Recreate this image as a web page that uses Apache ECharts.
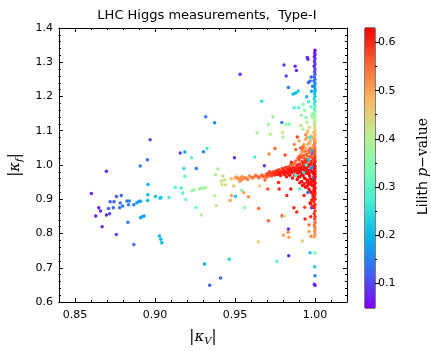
<!DOCTYPE html>
<html><head><meta charset="utf-8">
<script src="https://cdn.jsdelivr.net/npm/echarts@6/dist/echarts.min.js"></script>
<style>html,body{margin:0;padding:0;background:#fff}#c{width:431px;height:351px}</style>
</head><body><div id="c"></div>
<script>
// ---- data: [ |kappa_V|, |kappa_f|, Lilith p-value ] ----
const leftBranch = [
[0.8603,0.917,0.08],[0.8697,0.982,0.08],[0.8649,0.875,0.07],[0.866,0.866,0.08],[0.863,0.851,0.07],
[0.867,0.820,0.08],[0.8697,0.854,0.08],[0.8717,0.858,0.10],[0.871,0.873,0.12],[0.872,0.893,0.12],
[0.8744,0.893,0.12],[0.874,0.875,0.13],[0.876,0.908,0.12],[0.8759,0.797,0.10],[0.878,0.875,0.13],
[0.8783,0.889,0.13],[0.879,0.911,0.13],[0.8798,0.880,0.14],[0.8825,0.895,0.14],[0.884,0.895,0.15],
[0.8835,0.884,0.15],[0.8831,0.833,0.14],[0.8868,0.884,0.15],[0.8868,0.768,0.13],[0.8887,0.890,0.17],
[0.890,0.894,0.18],[0.891,0.894,0.18],[0.891,0.846,0.18],[0.892,0.849,0.18],[0.8932,0.851,0.18],
[0.8908,0.997,0.15],[0.8953,1.015,0.14],[0.897,1.074,0.10],[0.8957,0.943,0.20],[0.8955,0.913,0.20],
[0.8955,0.896,0.20],[0.9003,0.908,0.21],[0.9032,0.903,0.22],[0.9038,0.905,0.22],[0.9088,0.905,0.27],
[0.9028,0.793,0.20],[0.9037,0.783,0.20],[0.9043,0.773,0.20],[0.9127,0.935,0.30],[0.9158,1.035,0.10],
[0.9187,1.038,0.18],[0.9165,0.933,0.28],[0.9173,0.918,0.30],[0.9181,0.990,0.25],[0.9187,0.967,0.30],
[0.9193,0.899,0.32],[0.9228,1.021,0.30],[0.9232,0.925,0.37],[0.9245,0.927,0.37],[0.9255,0.876,0.33],
[0.9259,0.990,0.15],[0.9278,0.930,0.38],[0.929,0.932,0.38],[0.9303,0.932,0.38],[0.9317,0.934,0.38],
[0.929,0.854,0.40],[0.9303,1.039,0.15],[0.9326,1.048,0.27],[0.9317,1.141,0.15],[0.9373,1.123,0.15],
[0.931,0.711,0.20],[0.9342,0.649,0.12]
];
const midBranch = [
[0.941,0.670,0.13],[0.9464,0.725,0.23],[0.9373,0.911,0.40],[0.9383,0.882,0.42],[0.9379,0.972,0.40],
[0.9394,0.988,0.40],[0.9415,0.953,0.42],[0.9419,0.942,0.42],[0.9425,0.968,0.43],[0.9435,0.956,0.43],
[0.9441,0.942,0.43],[0.947,0.896,0.50],[0.9478,0.910,0.50],[0.9503,0.909,0.22],[0.9497,1.021,0.09],
[0.9477,0.960,0.48],[0.9508,0.964,0.50],[0.9493,0.939,0.46],[0.9532,1.265,0.08],[0.9529,0.952,0.50],
[0.9539,0.956,0.52],[0.955,0.960,0.52],[0.956,0.963,0.52],[0.9543,0.926,0.35],[0.9555,0.919,0.50],
[0.956,0.875,0.35],[0.9584,0.907,0.52],[0.958,0.958,0.53],[0.9601,0.964,0.53],[0.9622,0.966,0.53],
[0.9622,1.023,0.28],[0.9639,1.094,0.38],[0.9648,0.873,0.55],[0.9653,0.939,0.45],[0.9643,0.966,0.55],
[0.9663,0.968,0.55],[0.9667,1.186,0.25],[0.9646,0.776,0.45],[0.9684,0.998,0.09],[0.9688,0.956,0.55],
[0.9500,0.962,0.50],[0.9512,0.965,0.51],[0.9520,0.960,0.52],[0.9535,0.963,0.51],[0.9545,0.966,0.52],
[0.9570,0.962,0.53],[0.9590,0.968,0.52],[0.9610,0.962,0.54],[0.9630,0.970,0.54],[0.9650,0.963,0.55],
[0.9670,0.971,0.55],[0.9680,0.966,0.56],[0.9695,0.972,0.56],[0.9700,0.965,0.56]
];
const rightScatter = [
[0.9705,0.970,0.55],[0.9705,0.930,0.57],[0.9709,0.837,0.55],[0.9713,1.032,0.53],[0.9717,0.980,0.57],
[0.971,1.118,0.38],[0.972,1.090,0.40],[0.9737,1.141,0.38],[0.975,1.048,0.55],[0.9762,0.718,0.30],
[0.9772,0.949,0.60],[0.9776,0.930,0.60],[0.9793,1.124,0.15],[0.9797,1.095,0.42],[0.9801,1.082,0.40],
[0.9795,0.852,0.58],[0.9808,0.851,0.40],[0.9803,0.795,0.50],[0.9806,1.292,0.09],[0.9814,1.029,0.57],
[0.9818,1.119,0.38],[0.982,1.260,0.10],[0.9824,0.911,0.60],[0.9832,0.804,0.52],[0.9834,0.813,0.09],
[0.9834,1.226,0.15],[0.9836,0.735,0.08],[0.9838,0.789,0.50],[0.984,1.119,0.35],[0.9849,0.930,0.62],
[0.9853,1.008,0.60],[0.9864,1.207,0.20],[0.9868,0.875,0.60],[0.987,1.167,0.28],[0.9876,1.288,0.08],
[0.9884,1.276,0.08],[0.988,1.210,0.20],[0.9886,0.863,0.60],[0.989,1.082,0.58],[0.9895,1.216,0.22],
[0.9897,1.167,0.30],[0.9901,1.025,0.57],[0.9911,1.115,0.42],[0.9917,1.039,0.50],
[0.9921,0.778,0.45],[0.9926,1.177,0.35],[0.9932,0.911,0.60],[0.9936,0.877,0.58],[0.9938,0.842,0.60],
[0.9942,1.088,0.52],[0.9944,1.139,0.35],[0.9948,1.199,0.20],[0.9952,1.314,0.08],[0.9956,1.309,0.08],
[0.9959,1.241,0.13],[0.9963,0.806,0.50],[0.9963,0.825,0.55],[0.9967,1.063,0.50],[0.9969,0.744,0.22],
[0.9971,0.887,0.62],[0.9973,0.849,0.60],[0.9975,0.792,0.52],[0.9977,1.257,0.12],[0.9979,0.875,0.08],
[0.9981,1.148,0.35],[0.9983,1.139,0.40],
[0.9915,1.145,0.38],[0.9935,1.160,0.36],[0.9950,1.125,0.40],[0.9965,1.110,0.42],[0.9925,1.105,0.40],
[0.9975,1.170,0.32],[0.9960,1.185,0.27],[0.9978,1.215,0.18],[0.9985,1.230,0.15],[0.9970,1.245,0.13],
[0.9870,1.060,0.52],[0.9900,1.070,0.50],[0.9925,1.055,0.54],[0.9940,1.075,0.50],[0.9880,1.045,0.55],
[0.9955,1.095,0.47],[0.9910,1.050,0.56]
];
const denseCore = [
[0.9705,0.975,0.57],[0.9712,0.970,0.58],[0.9720,0.978,0.58],[0.9728,0.968,0.57],[0.9735,0.974,0.59],
[0.9740,0.980,0.58],[0.9748,0.971,0.60],[0.9752,0.977,0.59],[0.9760,0.983,0.60],[0.9765,0.972,0.61],
[0.9770,0.978,0.60],[0.9775,0.986,0.58],[0.9780,0.975,0.61],[0.9785,0.969,0.62],[0.9790,0.981,0.60],
[0.9795,0.990,0.58],[0.9800,0.977,0.62],[0.9805,0.985,0.61],[0.9810,0.972,0.62],[0.9815,0.993,0.59],
[0.9818,0.980,0.62],[0.9822,0.966,0.61],[0.9826,0.988,0.60],[0.9830,0.976,0.62],[0.9834,0.995,0.57],
[0.9838,0.983,0.62],[0.9842,0.970,0.62],[0.9846,0.990,0.61],[0.9850,1.000,0.57],[0.9853,0.978,0.63],
[0.9857,0.986,0.62],[0.9860,0.962,0.62],[0.9864,0.994,0.60],[0.9868,1.005,0.56],[0.9870,0.981,0.62],
[0.9874,0.971,0.63],[0.9877,0.990,0.61],[0.9880,1.012,0.55],[0.9883,0.984,0.62],[0.9886,0.998,0.60],
[0.9889,0.958,0.62],[0.9892,0.976,0.63],[0.9895,1.020,0.55],[0.9897,0.992,0.61],[0.9900,0.985,0.62],
[0.9903,1.003,0.59],[0.9906,0.966,0.63],[0.9909,0.979,0.62],[0.9912,1.030,0.53],[0.9914,0.995,0.61],
[0.9917,0.952,0.62],[0.9920,1.010,0.58],[0.9922,0.987,0.62],[0.9925,0.970,0.63],[0.9928,1.040,0.52],
[0.9930,0.999,0.60],[0.9932,0.945,0.62],[0.9935,1.018,0.56],[0.9937,0.982,0.63],[0.9940,0.960,0.62],
[0.9942,1.050,0.50],[0.9944,1.006,0.59],[0.9946,0.990,0.62],[0.9948,0.938,0.62],[0.9950,1.026,0.55],
[0.9952,0.975,0.63],[0.9954,0.955,0.62],[0.9956,1.060,0.48],[0.9958,1.013,0.57],[0.9960,0.996,0.61],
[0.9962,0.930,0.62],[0.9964,1.035,0.53],[0.9966,0.968,0.63],[0.9968,0.948,0.62],[0.9970,1.070,0.48],
[0.9972,1.002,0.60],[0.9974,0.985,0.62],[0.9976,0.920,0.62],[0.9978,1.045,0.52],[0.9980,0.958,0.63],
[0.9982,0.940,0.62],[0.9984,1.020,0.57],[0.9986,0.978,0.63],[0.9988,0.910,0.62],[0.9990,1.055,0.50],
[0.9992,0.995,0.61],[0.9994,0.965,0.63],[0.9996,0.935,0.62],[0.9998,1.008,0.59],[1.0000,0.972,0.62]
];
const coreFill = [
[0.9890,1.000,0.60],[0.9895,0.965,0.62],[0.9900,1.015,0.58],[0.9905,0.948,0.62],[0.9910,0.990,0.62],
[0.9915,1.022,0.57],[0.9918,0.972,0.63],[0.9922,0.940,0.62],[0.9926,1.005,0.60],[0.9929,1.028,0.56],
[0.9933,0.962,0.63],[0.9936,0.993,0.62],[0.9939,1.012,0.59],[0.9941,0.935,0.62],[0.9943,0.977,0.63],
[0.9947,1.032,0.55],[0.9949,0.998,0.61],[0.9951,0.950,0.62],[0.9953,1.016,0.58],[0.9957,0.985,0.63],
[0.9959,0.942,0.62],[0.9961,1.040,0.54],[0.9963,0.975,0.63],[0.9965,1.002,0.61],[0.9967,0.925,0.62],
[0.9969,1.024,0.57],[0.9971,0.960,0.63],[0.9973,1.050,0.52],[0.9975,0.945,0.62],[0.9977,1.010,0.60],
[0.9979,0.982,0.63],[0.9981,1.030,0.56],[0.9983,0.952,0.63],[0.9985,0.918,0.62],[0.9987,1.000,0.62],
[0.9989,1.038,0.55],[0.9991,0.975,0.63],[0.9993,0.928,0.62],[0.9995,1.016,0.59],[0.9997,0.990,0.63],
[0.9999,0.945,0.62],[0.9990,0.905,0.61],[0.9980,0.898,0.61],[0.9970,0.890,0.61],[0.9986,0.880,0.60],
[0.9960,1.065,0.49],[0.9975,1.085,0.47],[0.9985,1.078,0.48],[0.9950,1.080,0.49],[0.9992,1.095,0.46],
[0.9965,1.045,0.55],[0.9940,1.040,0.53],[0.9930,1.060,0.51],[0.9920,1.048,0.55],[0.9955,1.100,0.46]
];
const coreOutliers = [
[0.9905,0.930,0.30],[0.9985,1.034,0.12],[0.9988,0.996,0.18],[0.9960,1.015,0.22],[0.9975,0.990,0.15],
[0.9985,1.042,0.18],[0.9930,0.978,0.25],[0.9990,0.962,0.12],[0.9945,1.000,0.28],[0.9880,0.970,0.30],
[0.9955,0.920,0.14],[0.9998,1.065,0.20],[0.9968,1.080,0.25]
];
const edgeColumn = [
[1.0,1.335,0.06],[0.9998,1.328,0.07],[1.0,1.322,0.08],[0.9996,1.316,0.07],[1.0,1.310,0.09],
[0.9997,1.302,0.08],[1.0,1.295,0.09],[0.9995,1.288,0.08],[1.0,1.280,0.10],[0.9998,1.272,0.10],
[1.0,1.265,0.12],[0.9996,1.258,0.13],[1.0,1.250,0.13],[0.9993,1.245,0.14],[1.0,1.238,0.15],
[0.9997,1.230,0.16],[1.0,1.222,0.17],[1.0,1.215,0.20],[0.9998,1.208,0.21],[1.0,1.200,0.22],
[0.9995,1.193,0.24],[1.0,1.185,0.25],[0.9997,1.178,0.27],[1.0,1.170,0.30],[0.9996,1.163,0.32],
[1.0,1.157,0.34],[0.9993,1.150,0.35],[1.0,1.143,0.37],[0.9998,1.136,0.38],[1.0,1.129,0.40],
[0.9995,1.122,0.41],[1.0,1.115,0.43],[0.9997,1.108,0.44],[1.0,1.100,0.46],[0.9996,1.094,0.47],
[1.0,1.088,0.48],[0.9993,1.082,0.49],[1.0,1.076,0.50],[0.9998,1.070,0.51],[1.0,1.064,0.52],
[0.9995,1.058,0.53],[1.0,1.050,0.54],[0.9997,1.044,0.55],[1.0,1.038,0.56],[0.9994,1.032,0.57],
[1.0,1.026,0.58],[0.9998,1.020,0.59],[1.0,1.012,0.60],[0.9996,1.004,0.61],[1.0,0.996,0.62],
[0.9998,0.988,0.63],[1.0,0.980,0.63],[0.9995,0.972,0.63],[1.0,0.964,0.63],[0.9997,0.956,0.62],
[1.0,0.948,0.62],[0.9994,0.940,0.62],[1.0,0.932,0.62],[0.9998,0.924,0.62],[1.0,0.916,0.61],
[0.9996,0.908,0.61],[1.0,0.900,0.61],[0.9993,0.892,0.60],[1.0,0.884,0.60],[0.9997,0.875,0.60],
[1.0,0.866,0.59],[0.9995,0.858,0.59],[1.0,0.850,0.58],[0.9998,0.842,0.58],[1.0,0.832,0.55],
[0.9996,0.823,0.54],[1.0,0.815,0.53],[0.9998,0.806,0.52],[1.0,0.797,0.51],[0.9995,0.790,0.50],
[1.0,0.743,0.35],[0.9998,0.703,0.22],[1.0,0.677,0.15],[0.9996,0.652,0.08],[1.0,0.648,0.07]
];
// ---- axis ticks ----
const xMajor = [0.85, 0.90, 0.95, 1.00];
const xMinor = [0.84,0.86,0.87,0.88,0.89,0.91,0.92,0.93,0.94,0.96,0.97,0.98,0.99,1.01,1.02];
const yMajor = [0.6,0.7,0.8,0.9,1.0,1.1,1.2,1.3,1.4];
const yMinor = [0.62,0.64,0.66,0.68,0.72,0.74,0.76,0.78,0.82,0.84,0.86,0.88,0.92,0.94,0.96,0.98,
                1.02,1.04,1.06,1.08,1.12,1.14,1.16,1.18,1.22,1.24,1.26,1.28,1.32,1.34,1.36,1.38];
const cbMajor = [0.1,0.2,0.3,0.4,0.5,0.6];
const cbMinor = [0.15,0.25,0.35,0.45,0.55];
const cbRange = [0.049, 0.63];
const xRange = [0.84, 1.02];
const yRange = [0.6, 1.4];

// matplotlib "rainbow" colormap stops (low -> high)
const rainbow = ['#8000ff','#4062fa','#00b4ec','#40ecd4','#80ffb4','#bfec8e','#ffb462','#ff6232','#ff0000'];

const points = [].concat(leftBranch, midBranch, rightScatter, denseCore, coreFill, coreOutliers, edgeColumn);

const chart = echarts.init(document.getElementById('c'), null, {renderer:'canvas'});
const axisCol = '#000';
const tickFont = {color:'#000', fontSize:11, fontFamily:'DejaVu Sans'};
function xAx(pos, vals, len, labels, line){
  return {type:'value', gridIndex:0, position:pos, min:xRange[0], max:xRange[1],
    axisLine:{show:line, onZero:false, lineStyle:{color:axisCol,width:1}},
    axisTick:{show:true, inside:true, length:len, customValues:vals, lineStyle:{color:axisCol,width:1}},
    axisLabel: labels ? Object.assign({show:true, customValues:vals, margin:8, formatter:v=>v.toFixed(2)}, tickFont) : {show:false},
    splitLine:{show:false}};
}
function yAx(pos, vals, len, labels, line){
  return {type:'value', gridIndex:0, position:pos, min:yRange[0], max:yRange[1],
    axisLine:{show:line, onZero:false, lineStyle:{color:axisCol,width:1}},
    axisTick:{show:true, inside:true, length:len, customValues:vals, lineStyle:{color:axisCol,width:1}},
    axisLabel: labels ? Object.assign({show:true, customValues:vals, margin:6, formatter:v=>v.toFixed(1)}, tickFont) : {show:false},
    splitLine:{show:false}};
}
const mathRich = {
  b:{fontFamily:'DejaVu Sans', fontSize:15, color:'#000'},
  k:{fontFamily:'DejaVu Serif', fontStyle:'italic', fontSize:15, color:'#000'},
  s:{fontFamily:'DejaVu Serif', fontStyle:'italic', fontSize:10, color:'#000', padding:[8,0,0,0]}
};
const xa0 = xAx('bottom', xMajor, 4, true, true);
xa0.name = '{b||}{k|κ}{s|V}{b||}'; xa0.nameLocation='middle'; xa0.nameGap=26;
xa0.nameTextStyle = {rich: mathRich};
const ya0 = yAx('left', yMajor, 4, true, true);
ya0.name = '{b||}{k|κ}{s|f}{b||}'; ya0.nameLocation='middle'; ya0.nameGap=30; ya0.nameRotate=90;
ya0.nameTextStyle = {rich: mathRich};

const option = {
  backgroundColor:'#fff',
  animation:false,
  title:{text:'LHC Higgs measurements,  Type-I', left:202, top:4, textAlign:'center',
    textStyle:{fontFamily:'DejaVu Sans', fontSize:13, fontWeight:'normal', color:'#000'}},
  grid:[
    {left:57, top:28, width:290, height:281, show:false},
    {left:365, top:28, width:10, height:280, show:true, borderColor:'#000', borderWidth:1, backgroundColor:'transparent'}
  ],
  xAxis:[
    xa0, xAx('bottom', xMinor, 2, false, false),
    xAx('top', xMajor, 4, false, true), xAx('top', xMinor, 2, false, false),
    {type:'category', gridIndex:1, data:['cb'], show:false}
  ],
  yAxis:[
    ya0, yAx('left', yMinor, 2, false, false),
    yAx('right', yMajor, 4, false, true), yAx('right', yMinor, 2, false, false),
    {type:'value', gridIndex:1, position:'right', min:cbRange[0], max:cbRange[1],
      axisLine:{show:false}, splitLine:{show:false},
      axisTick:{show:true, inside:false, length:4, customValues:cbMajor, lineStyle:{color:'#000'}},
      axisLabel:Object.assign({show:true, customValues:cbMajor, margin:3, formatter:v=>v.toFixed(1)}, tickFont)},
    {type:'value', gridIndex:1, position:'right', min:cbRange[0], max:cbRange[1],
      axisLine:{show:false}, splitLine:{show:false}, axisLabel:{show:false},
      axisTick:{show:true, inside:false, length:2, customValues:cbMinor, lineStyle:{color:'#000'}}}
  ],
  visualMap:{type:'continuous', show:false, dimension:2, seriesIndex:0,
    min:cbRange[0], max:cbRange[1], inRange:{color:rainbow}},
  graphic:[
    {type:'text', left:416, top:118, rotation:Math.PI/2, style:{
      text:'{a|Lilith }{p|p}{m|−value}',
      rich:{a:{fontFamily:'DejaVu Sans', fontSize:14, fill:'#000'},
            p:{fontFamily:'DejaVu Serif', fontStyle:'italic', fontSize:14, fill:'#000'},
            m:{fontFamily:'DejaVu Serif', fontSize:14, fill:'#000'}}}}
  ],
  series:[
    {type:'scatter', xAxisIndex:0, yAxisIndex:0, data:points, symbol:'circle', symbolSize:3.5,
      itemStyle:{opacity:1}, silent:true, clip:true},
    {type:'bar', xAxisIndex:4, yAxisIndex:4, data:[cbRange[1]], barWidth:'100%', silent:true,
      itemStyle:{color:new echarts.graphic.LinearGradient(0,0,0,1,
        rainbow.slice().reverse().map((c,i,a)=>({offset:i/(a.length-1), color:c})))}}
  ]
};
chart.setOption(option);
</script></body></html>
